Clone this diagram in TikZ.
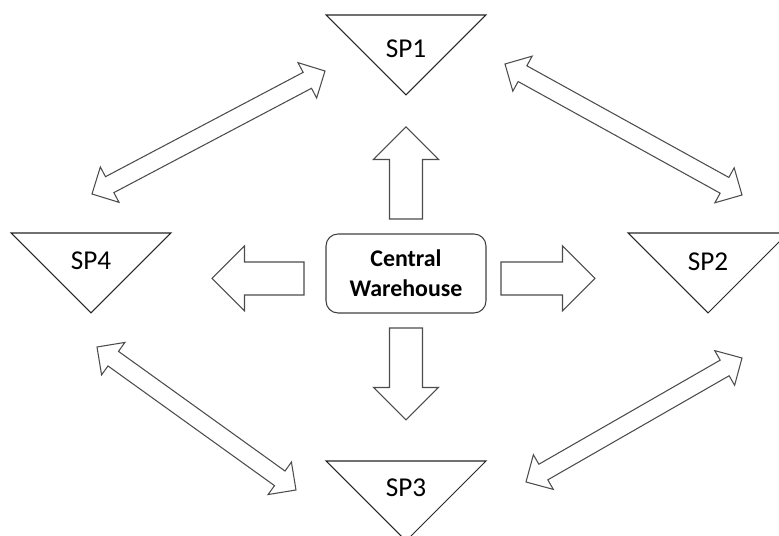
\documentclass[tikz,border=0pt]{standalone}
\usepackage{fontspec}
\setmainfont{Carlito}
\usepackage{xcolor}
\usepackage{tikz}
\usetikzlibrary{calc,positioning}

% block arrow sizes (half widths and head length)
\newcommand{\fatshaft}{0.33cm}
\newcommand{\fathead}{0.65cm}
\newcommand{\fatlen}{0.65cm}
\newcommand{\dblshaft}{0.18cm}
\newcommand{\dblhead}{0.40cm}
\newcommand{\dbllen}{0.40cm}

\begin{document}
\begin{tikzpicture}[
    x=0.02cm, y=-0.02cm,
    sptext/.style={font=\fontsize{15.5}{18}\selectfont, inner sep=0pt},
    spshape/.style={draw=black!85, line width=0.6pt, fill=white},
    hubbox/.style={rectangle, draw=black!75, line width=0.6pt, rounded corners=0.24cm, minimum width=3.2cm, minimum height=1.58cm, align=center, font=\fontsize{13.6}{17}\selectfont\bfseries},
    fatarrow/.style={draw=black!70, line width=0.6pt, fill=white, to path={
        -- ($(\tikztostart)!\fatshaft!90:(\tikztotarget)$)
        -- ($(\tikztotarget)!\fatlen!(\tikztostart)!\fatshaft!-90:(\tikztostart)$)
        -- ($(\tikztotarget)!\fatlen!(\tikztostart)!\fathead!-90:(\tikztostart)$)
        -- (\tikztotarget)
        -- ($(\tikztotarget)!\fatlen!(\tikztostart)!\fathead!90:(\tikztostart)$)
        -- ($(\tikztotarget)!\fatlen!(\tikztostart)!\fatshaft!90:(\tikztostart)$)
        -- ($(\tikztostart)!\fatshaft!-90:(\tikztotarget)$)
        -- cycle}},
    dblarrow/.style={draw=black!70, line width=0.6pt, fill=white, to path={
        -- ($(\tikztostart)!\dbllen!(\tikztotarget)!\dblhead!90:(\tikztotarget)$)
        -- ($(\tikztostart)!\dbllen!(\tikztotarget)!\dblshaft!90:(\tikztotarget)$)
        -- ($(\tikztotarget)!\dbllen!(\tikztostart)!\dblshaft!-90:(\tikztostart)$)
        -- ($(\tikztotarget)!\dbllen!(\tikztostart)!\dblhead!-90:(\tikztostart)$)
        -- (\tikztotarget)
        -- ($(\tikztotarget)!\dbllen!(\tikztostart)!\dblhead!90:(\tikztostart)$)
        -- ($(\tikztotarget)!\dbllen!(\tikztostart)!\dblshaft!90:(\tikztostart)$)
        -- ($(\tikztostart)!\dbllen!(\tikztotarget)!\dblshaft!-90:(\tikztotarget)$)
        -- ($(\tikztostart)!\dbllen!(\tikztotarget)!\dblhead!-90:(\tikztotarget)$)
        -- cycle}}
]
\useasboundingbox (0,0) rectangle (779,536);
\clip (0,0) rectangle (779,536);

% selling points (triangles)
\foreach \n/\t/\x/\y/\ty in {sp1/SP1/406/15/49, sp2/SP2/708/233/262, sp3/SP3/406/461/488, sp4/SP4/91/233/261} {
    \draw[spshape] (\x-80,\y) -- ++(160,0) -- ++(-80,80) -- cycle;
    \node[sptext] (\n) at (\x,\ty) {\t};
}

% central warehouse
\node[hubbox] (cw) at (406,273.5) {Central\\Warehouse};

% arrow ends
\coordinate (up0) at (406,219);   \coordinate (up1) at (406,127);
\coordinate (dn0) at (406,328);   \coordinate (dn1) at (406,420);
\coordinate (lt0) at (304,278.5); \coordinate (lt1) at (212,278.5);
\coordinate (rt0) at (501,278.5); \coordinate (rt1) at (595,278.5);

\draw[fatarrow] (up0) to (up1);
\draw[fatarrow] (dn0) to (dn1);
\draw[fatarrow] (lt0) to (lt1);
\draw[fatarrow] (rt0) to (rt1);

% links between the selling points
\coordinate (s41a) at (92,194);  \coordinate (s41b) at (325,71);
\coordinate (s12a) at (505,64);  \coordinate (s12b) at (742,195);
\coordinate (s43a) at (97,347);  \coordinate (s43b) at (296,490);
\coordinate (s32a) at (526,482); \coordinate (s32b) at (742,358);

\draw[dblarrow] (s41a) to (s41b);
\draw[dblarrow] (s12a) to (s12b);
\draw[dblarrow] (s43a) to (s43b);
\draw[dblarrow] (s32a) to (s32b);
\end{tikzpicture}
\end{document}
